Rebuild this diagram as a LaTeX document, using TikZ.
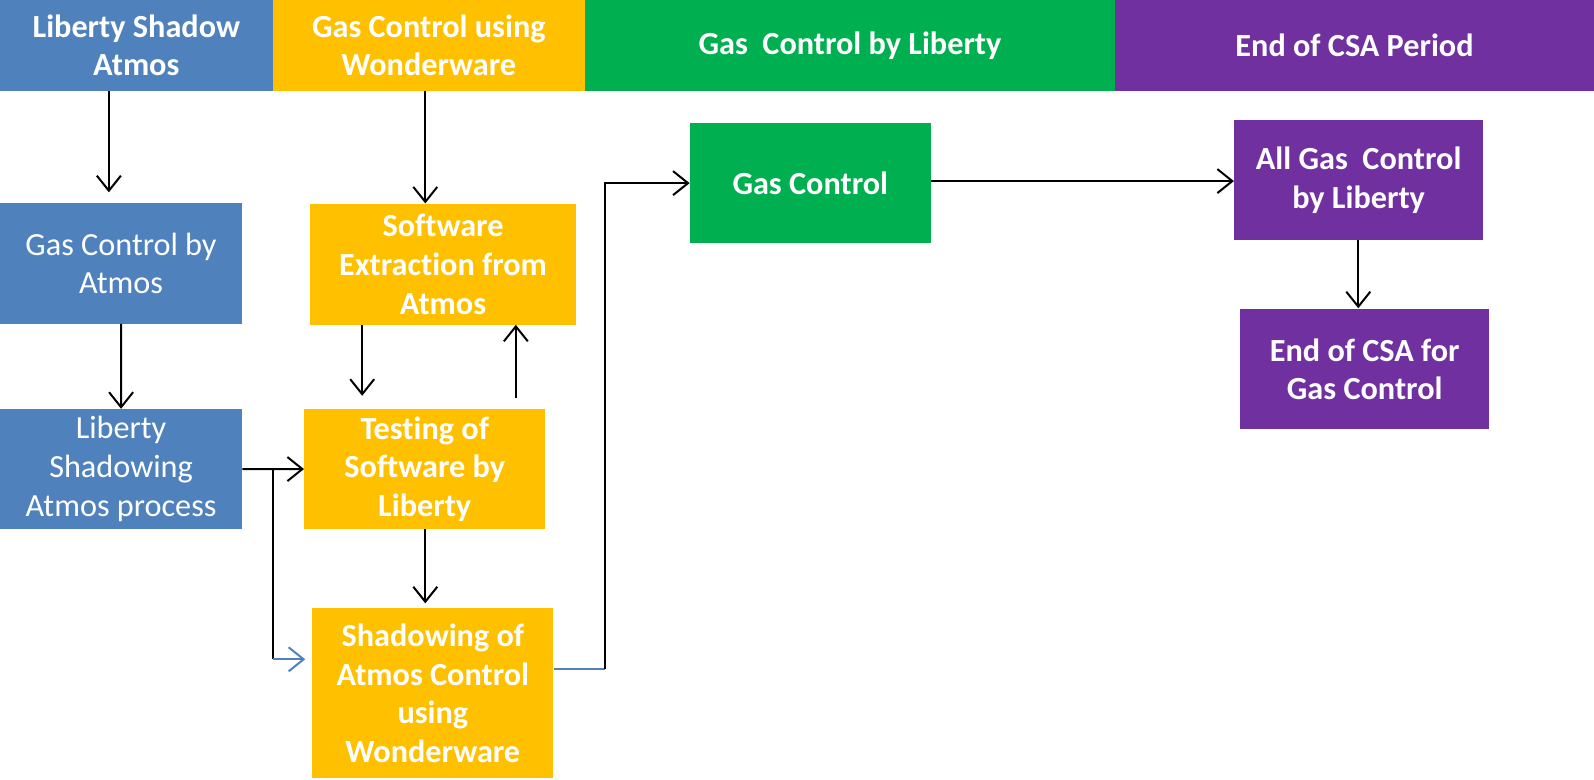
\documentclass[tikz,border=0pt]{standalone}
\usepackage{fontspec}
\setmainfont{Carlito}[Ligatures=NoCommon]
\usepackage{xcolor}
\usetikzlibrary{arrows.meta, calc, positioning}
\definecolor{atmosblue}{HTML}{4F81BD}
\definecolor{wwyellow}{HTML}{FFC000}
\definecolor{libgreen}{HTML}{00B050}
\definecolor{csapurple}{HTML}{7030A0}

\begin{document}
\begin{tikzpicture}[x=1pt, y=-1pt, scale=1.0173, transform shape]
        \useasboundingbox (0,0) rectangle (1566.9,765.8);

        \tikzstyle{b} = [inner sep=0pt, text=white, align=center,
                         font=\fontsize{31.7}{38}\selectfont\bfseries];
        \tikzstyle{r} = [font=\fontsize{31.7}{38}\selectfont];
        \tikzstyle{a} = [draw=black, line width=2pt,
                         -{Straight Barb[length=15pt, width=24pt, line width=2pt]}];

        % header bands
        \node [b, fill=atmosblue, minimum width=268, minimum height=89] (hb) at (134, 44.5)
            {Liberty Shadow\\Atmos};
        \node [b, fill=wwyellow, minimum width=307, minimum height=89] (hy) at (421.5, 44.5)
            {Gas Control using\\Wonderware};
        \node [b, fill=libgreen, minimum width=521, minimum height=89] (hg) at (835.5, 44.5)
            {Gas\ \ Control by Liberty};
        \node [b, fill=csapurple, minimum width=471, minimum height=89] (hp) at (1331.5, 44.5)
            {End of CSA Period};

        % boxes
        \node [b, r, fill=atmosblue, minimum width=238, minimum height=118]
            (atmos) at (119, 259) {Gas Control by\\Atmos};
        \node [b, r, fill=atmosblue, minimum width=238, minimum height=118]
            (shadow) at (119, 461) {Liberty\\Shadowing\\Atmos process};
        \node [b, fill=wwyellow, minimum width=261, minimum height=118]
            (extract) at (435.5, 260) {Software\\Extraction from\\Atmos};
        \node [b, fill=wwyellow, minimum width=237, minimum height=118]
            (testing) at (417.5, 461) {Testing of\\Software by\\Liberty};
        \node [b, fill=wwyellow, minimum width=237, minimum height=167]
            (wonder) at (425.5, 681.5) {Shadowing of\\Atmos Control\\using\\Wonderware};
        \node [b, fill=libgreen, minimum width=237, minimum height=118]
            (gas) at (796.5, 180) {Gas Control};
        \node [b, fill=csapurple, minimum width=245, minimum height=118]
            (allgas) at (1335.5, 177) {All Gas\ \ Control\\by Liberty};
        \node [b, fill=csapurple, minimum width=245, minimum height=118]
            (endcsa) at (1341.5, 363) {End of CSA for\\Gas Control};

        % free ends and bends
        \coordinate (e1) at (107, 189);
        \coordinate (e2) at (418, 200);
        \coordinate (e3) at (356, 389);
        \coordinate (e4) at (507, 391);
        \coordinate (e5) at (418, 593);
        \coordinate (e6) at (1335, 303);
        \coordinate (e7) at (300, 648);
        \coordinate (k1) at (268, 461);
        \coordinate (k2) at (268, 648);
        \coordinate (k3) at (595, 658);
        \coordinate (k4) at (595, 180);

        \draw [a] (e1 |- hb.south) -- (e1);
        \draw [a] (e2 |- hy.south) -- (e2);
        \draw [a] (atmos) -- (shadow);
        \draw [a] (e3 |- extract.south) -- (e3);
        \draw [a] (e4) -- (e4 |- extract.south);
        \draw [a] (shadow) -- (testing);
        \draw [a] (e5 |- testing.south) -- (e5);
        \draw [a] (e6 |- allgas.south) -- (e6);
        \draw [a] (gas.east |- 0,178) -- (allgas.west |- 0,178);

        % branch to the shadowing box
        \draw [line width=2pt] (k1) -- (k2);
        \draw [a, draw=atmosblue] (k2) -- (e7);
        \draw [line width=2pt, atmosblue] (wonder.east |- k3) -- (k3);
        \draw [a] (k3) -- (k4) -- (gas.west |- k4);
\end{tikzpicture}
\end{document}
